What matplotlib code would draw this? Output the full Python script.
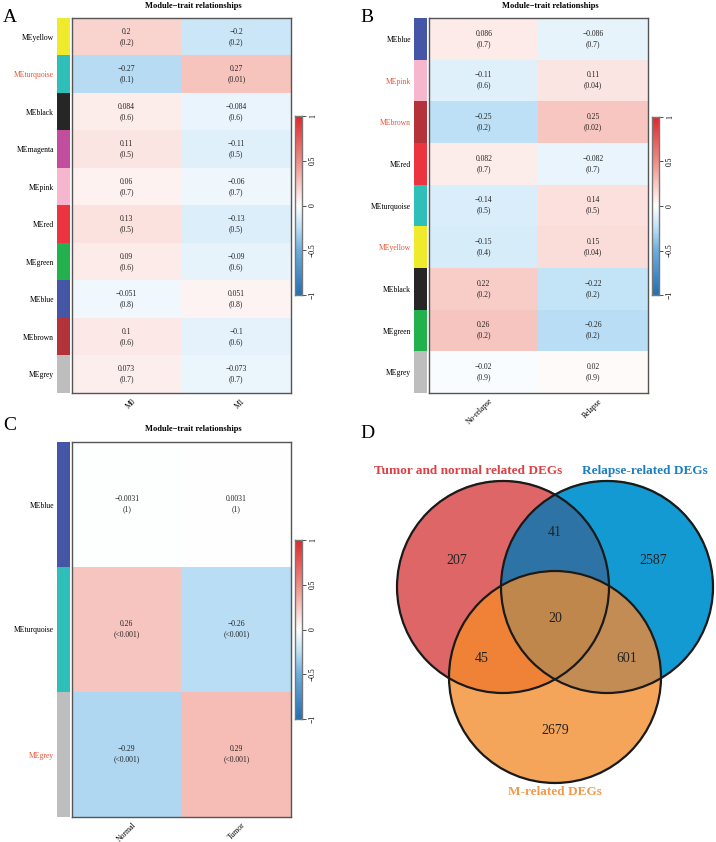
import numpy as np
import matplotlib
matplotlib.use("Agg")
import matplotlib.pyplot as plt
from matplotlib.colors import LinearSegmentedColormap, ListedColormap, to_rgb
from matplotlib.patches import Circle
from matplotlib.transforms import ScaledTranslation

plt.rcParams['font.family'] = ['Liberation Serif', 'DejaVu Serif']

W, H = 716, 842

# panel A
mods_a = ["MEyellow", "MEturquoise", "MEblack", "MEmagenta", "MEpink",
          "MEred", "MEgreen", "MEblue", "MEbrown", "MEgrey"]
traits_a = ["M0", "M1"]
cor_a = [0.2, -0.27, 0.084, 0.11, 0.06, 0.13, 0.09, -0.051, 0.1, 0.073]
p_a = [["0.2", "0.2"], ["0.1", "0.01"], ["0.6", "0.6"], ["0.5", "0.5"],
       ["0.7", "0.7"], ["0.5", "0.5"], ["0.6", "0.6"], ["0.8", "0.8"],
       ["0.6", "0.6"], ["0.7", "0.7"]]
hl_a = ["MEturquoise"]

# panel B
mods_b = ["MEblue", "MEpink", "MEbrown", "MEred", "MEturquoise",
          "MEyellow", "MEblack", "MEgreen", "MEgrey"]
traits_b = ["No-relapse", "Relapse"]
cor_b = [0.086, -0.11, -0.25, 0.082, -0.14, -0.15, 0.22, 0.26, -0.02]
p_b = [["0.7", "0.7"], ["0.6", "0.04"], ["0.2", "0.02"], ["0.7", "0.7"],
       ["0.5", "0.5"], ["0.4", "0.04"], ["0.2", "0.2"], ["0.2", "0.2"],
       ["0.9", "0.9"]]
hl_b = ["MEpink", "MEbrown", "MEyellow"]

# panel C
mods_c = ["MEblue", "MEturquoise", "MEgrey"]
traits_c = ["Normal", "Tumor"]
cor_c = [-0.0031, 0.26, -0.29]
p_c = [["1", "1"], ["<0.001", "<0.001"], ["<0.001", "<0.001"]]
hl_c = ["MEgrey"]

# panel D
set_names = ["Tumor and normal related DEGs", "Relapse-related DEGs", "M-related DEGs"]
counts = {"A": 207, "B": 2587, "C": 2679, "AB": 41, "AC": 45, "BC": 601, "ABC": 20}

mod_col = {"yellow": "#F0EA2C", "turquoise": "#2EBFB9", "black": "#262626",
           "magenta": "#C24C9E", "pink": "#F5B6CE", "red": "#EC3440",
           "green": "#22B14C", "blue": "#4556A6", "brown": "#B4333B",
           "grey": "#BEBEBE"}

cmap = LinearSegmentedColormap.from_list("bwr_w", [
    (0.0, "#2370B4"), (0.25, "#6FAEDD"), (0.375, "#BDE0F6"), (0.5, "#FFFFFF"),
    (0.625, "#F8C8C2"), (0.75, "#EF8E88"), (1.0, "#E3282A")])

fig = plt.figure(figsize=(W / 100, H / 100), dpi=100)


def pax(l, t, r, b):
    return fig.add_axes([l / W, 1 - b / H, (r - l) / W, (b - t) / H])


def fmt(v):
    s = ("%g" % v)
    return s.replace("-", "\u2212")


def heatmap(mods, traits, cor, pv, hl, x0, t, x1, b, cb_t, cb_b, title_y):
    n = len(mods)
    vals = np.array([[c, -c] for c in cor])
    ax = pax(x0 + 15, t, x1, b)
    ax.imshow(vals, cmap=cmap, vmin=-1, vmax=1, aspect="auto",
              interpolation="nearest")
    for i in range(n):
        for j in range(2):
            ax.text(j, i, fmt(vals[i, j]) + "\n(" + pv[i][j] + ")",
                    ha="center", va="center", fontsize=5.5,
                    linespacing=1.35, color="#222222")
    for s in ax.spines.values():
        s.set_color("#555555")
        s.set_linewidth(1.0)
    ax.set_yticks([])
    ax.set_xticks(range(2))
    ax.set_xticklabels(traits, rotation=45, ha="right", va="top",
                       rotation_mode="anchor", fontsize=5.5)
    ax.tick_params(axis="x", length=0, pad=3)
    for lab in ax.get_xticklabels():
        lab.set_transform(lab.get_transform() +
                          ScaledTranslation(5 / 100, 0, fig.dpi_scale_trans))
    # module colour strip
    sx = pax(x0, t, x0 + 13, b)
    sx.imshow(np.arange(n).reshape(-1, 1),
              cmap=ListedColormap([mod_col[m[2:]] for m in mods]),
              aspect="auto", interpolation="nearest")
    sx.set_xticks([])
    sx.set_yticks(range(n))
    sx.set_yticklabels(mods, fontsize=5.5)
    sx.tick_params(axis="y", length=0, pad=2)
    for lab in sx.get_yticklabels():
        if lab.get_text() in hl:
            lab.set_color("#E8553A")
    for s in sx.spines.values():
        s.set_visible(False)
    # title
    fig.text((x0 + 15 + x1) / 2 / W + 12 / W, 1 - title_y / H,
             "Module\u2212trait relationships", ha="center", va="center",
             fontsize=6, fontweight="bold")
    # colour bar
    cx = pax(x1 + 4, cb_t, x1 + 11, cb_b)
    grad = np.linspace(1, -1, 200).reshape(-1, 1)
    cx.imshow(grad, cmap=cmap, vmin=-1, vmax=1, aspect="auto",
              extent=[0, 1, -1, 1])
    cx.set_xticks([])
    cx.yaxis.tick_right()
    cx.set_yticks([-1, -0.5, 0, 0.5, 1])
    cx.set_yticklabels(["\u22121", "\u22120.5", "0", "0.5", "1"],
                       rotation=90, va="center", fontsize=5.5)
    cx.tick_params(axis="y", length=3, width=0.6, pad=2, color="#333333")
    for s in cx.spines.values():
        s.set_color("#777777")
        s.set_linewidth(1.0)


heatmap(mods_a, traits_a, cor_a, p_a, hl_a, 57, 18, 291, 393, 116, 295, 6)
heatmap(mods_b, traits_b, cor_b, p_b, hl_b, 414, 18, 648, 393, 117, 295, 6)
heatmap(mods_c, traits_c, cor_c, p_c, hl_c, 57, 442, 291, 817, 540, 719, 429)

# overlay in pixel coordinates
ov = fig.add_axes([0, 0, 1, 1], facecolor="none")
ov.set_xlim(0, W)
ov.set_ylim(H, 0)
ov.axis("off")

for letter, x, y in [("A", 3, 18), ("B", 360, 18), ("C", 3, 426), ("D", 360, 433)]:
    ov.text(x, y, letter, fontsize=14, ha="left", va="center")

# venn
centers = {"A": (503, 587), "B": (607, 587), "C": (555, 677)}
rad = 106
reg_col = {"A": "#E06666", "B": "#149BD2", "C": "#F5A55A", "AB": "#2D73A5",
           "AC": "#F08237", "BC": "#C38C55", "ABC": "#C0874B"}
gx = np.arange(385, 716, 0.5)
gy = np.arange(470, 790, 0.5)
XX, YY = np.meshgrid(gx, gy)
inside = {k: (XX - c[0]) ** 2 + (YY - c[1]) ** 2 <= rad ** 2 for k, c in centers.items()}
img = np.zeros(XX.shape + (4,))
for key, col in reg_col.items():
    m = np.ones(XX.shape, bool)
    for k in "ABC":
        m &= inside[k] if k in key else ~inside[k]
    img[m] = list(to_rgb(col)) + [1.0]
ov.imshow(img, extent=[gx[0], gx[-1], gy[-1], gy[0]], interpolation="bilinear",
          zorder=1)
for k, c in centers.items():
    ov.add_patch(Circle(c, rad, fill=False, ec="#1a1a1a", lw=1.6, zorder=2))
ov.set_xlim(0, W)
ov.set_ylim(H, 0)

num_pos = {"A": (457, 560), "B": (653, 560), "C": (555, 731), "AB": (555, 533),
           "AC": (482, 659), "BC": (627, 659), "ABC": (555, 618)}
for k, (x, y) in num_pos.items():
    ov.text(x, y, str(counts[k]), ha="center", va="center", fontsize=10,
            color="#222222", zorder=3)

ov.text(468, 471, set_names[0], ha="center", va="center", fontsize=9.5,
        fontweight="bold", color="#DD3F42")
ov.text(645, 471, set_names[1], ha="center", va="center", fontsize=9.5,
        fontweight="bold", color="#1B7FC2")
ov.text(555, 792, set_names[2], ha="center", va="center", fontsize=9.5,
        fontweight="bold", color="#F39A4A")

fig.savefig("out.png", dpi=100)
